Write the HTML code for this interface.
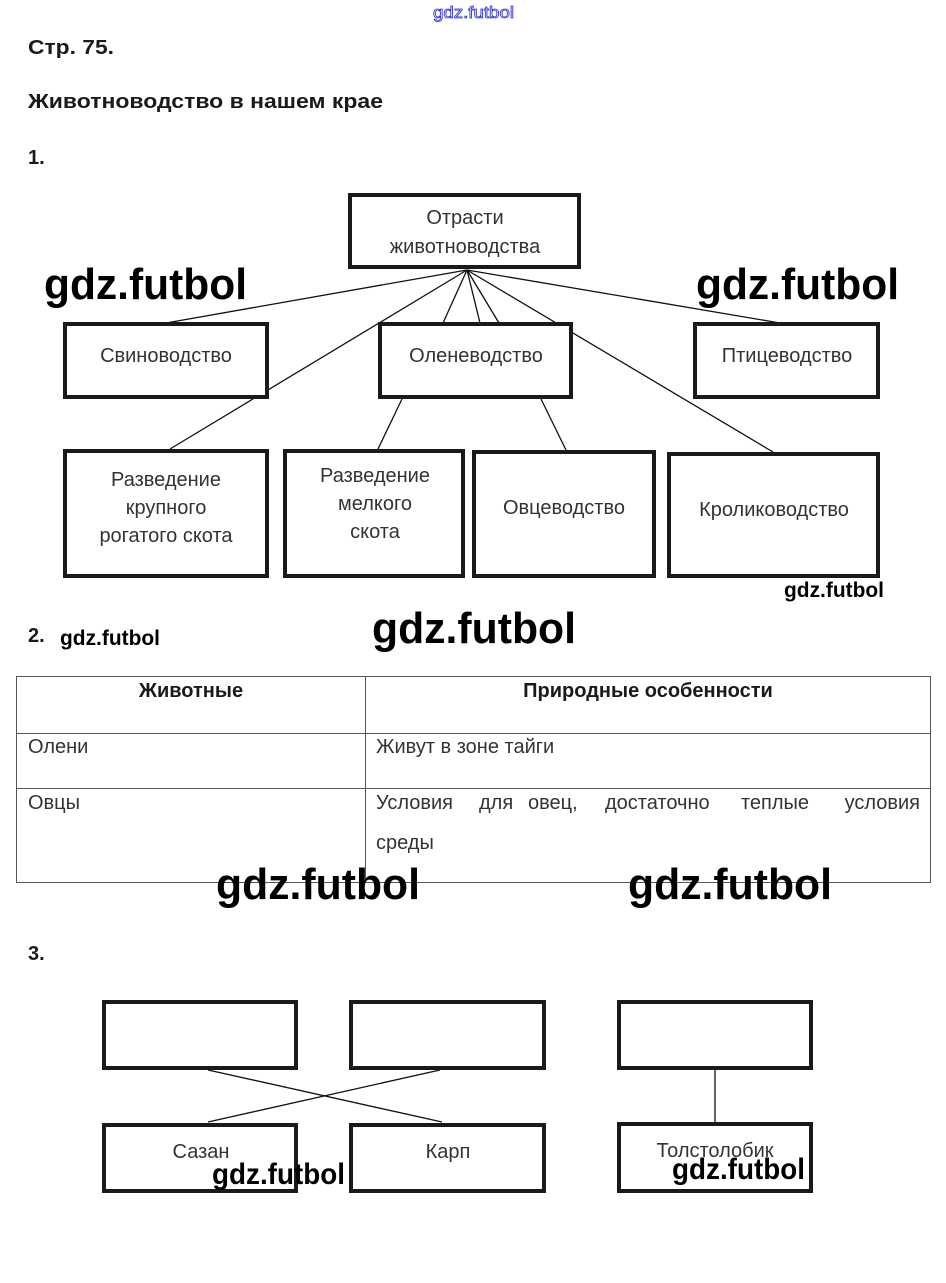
<!DOCTYPE html>
<html><head><meta charset="utf-8"><style>
html,body{margin:0;padding:0;background:#fff;width:946px;height:1283px;overflow:hidden}
svg{display:block}
text{font-family:"Liberation Sans",sans-serif}
.h{font-weight:bold;font-size:20px;fill:#1a1a1a}
.b{font-size:20px;fill:#333}
.w{font-size:44px;fill:#000;font-weight:bold;font-family:"Liberation Sans Narrow","Liberation Sans",sans-serif}
.ws{font-size:21px;fill:#000;font-weight:bold;font-family:"Liberation Sans Narrow","Liberation Sans",sans-serif}
</style></head><body>
<svg width="946" height="1283" viewBox="0 0 946 1283">
<text x="433" y="18" font-size="17" fill="none" stroke="#2b2bd6" stroke-width="0.8" textLength="81" lengthAdjust="spacingAndGlyphs">gdz.futbol</text>
<text class="h" x="28" y="54" textLength="86" lengthAdjust="spacingAndGlyphs">Стр. 75.</text>
<text class="h" x="28" y="108" textLength="355" lengthAdjust="spacingAndGlyphs">Животноводство в нашем крае</text>
<text class="h" x="28" y="164">1.</text>

<g stroke="#111" stroke-width="1.3" fill="none">
<line x1="467" y1="270" x2="166" y2="323"/>
<line x1="467" y1="270" x2="170" y2="449"/>
<line x1="467" y1="270" x2="443" y2="323"/>
<line x1="467" y1="270" x2="480" y2="323"/>
<line x1="467" y1="270" x2="499" y2="323"/>
<line x1="467" y1="270" x2="773" y2="452"/>
<line x1="467" y1="270" x2="780" y2="323"/>
<line x1="402" y1="399" x2="378" y2="449"/>
<line x1="541" y1="399" x2="566" y2="450"/>
</g>
<g stroke="#1a1a1a" stroke-width="4" fill="#fff">
<rect x="350" y="195" width="229" height="72"/>
<rect x="65" y="324" width="202" height="73"/>
<rect x="380" y="324" width="191" height="73"/>
<rect x="695" y="324" width="183" height="73"/>
<rect x="65" y="451" width="202" height="125"/>
<rect x="285" y="451" width="178" height="125"/>
<rect x="474" y="452" width="180" height="124"/>
<rect x="669" y="454" width="209" height="122"/>
</g>
<g class="b" text-anchor="middle">
<text x="465" y="224">Отрасти</text>
<text x="465" y="253">животноводства</text>
<text x="166" y="362">Свиноводство</text>
<text x="476" y="362">Оленеводство</text>
<text x="787" y="362">Птицеводство</text>
<text x="166" y="486">Разведение</text>
<text x="166" y="514">крупного</text>
<text x="166" y="542">рогатого скота</text>
<text x="375" y="482">Разведение</text>
<text x="375" y="510">мелкого</text>
<text x="375" y="538">скота</text>
<text x="564" y="514">Овцеводство</text>
<text x="774" y="516">Кролиководство</text>
</g>
<text class="w" x="44" y="299" textLength="203" lengthAdjust="spacingAndGlyphs">gdz.futbol</text>
<text class="w" x="696" y="299" textLength="203" lengthAdjust="spacingAndGlyphs">gdz.futbol</text>
<text class="ws" x="784" y="597" textLength="100" lengthAdjust="spacingAndGlyphs">gdz.futbol</text>

<text class="h" x="28" y="642">2.</text>
<text class="ws" x="60" y="645" textLength="100" lengthAdjust="spacingAndGlyphs">gdz.futbol</text>
<text class="w" x="372" y="643" textLength="204" lengthAdjust="spacingAndGlyphs">gdz.futbol</text>

<g stroke="#555" stroke-width="1" fill="none">
<rect x="16.5" y="676.5" width="914" height="206"/>
<line x1="365.5" y1="676" x2="365.5" y2="883"/>
<line x1="16" y1="733.5" x2="931" y2="733.5"/>
<line x1="16" y1="788.5" x2="931" y2="788.5"/>
</g>
<text class="h" x="191" y="697" text-anchor="middle">Животные</text>
<text class="h" x="648" y="697" text-anchor="middle">Природные особенности</text>
<text class="b" x="28" y="753">Олени</text>
<text class="b" x="376" y="753">Живут в зоне тайги</text>
<text class="b" x="28" y="809">Овцы</text>
<g class="b">
<text x="376" y="809">Условия</text>
<text x="479" y="809">для</text>
<text x="528" y="809">овец,</text>
<text x="605" y="809">достаточно</text>
<text x="741" y="809">теплые</text>
<text x="920" y="809" text-anchor="end">условия</text>
</g>
<text class="b" x="376" y="849">среды</text>
<text class="w" x="216" y="899" textLength="204" lengthAdjust="spacingAndGlyphs">gdz.futbol</text>
<text class="w" x="628" y="899" textLength="204" lengthAdjust="spacingAndGlyphs">gdz.futbol</text>

<text class="h" x="28" y="960">3.</text>
<g stroke="#111" stroke-width="1.3">
<line x1="208" y1="1070" x2="442" y2="1122"/>
<line x1="440" y1="1070" x2="208" y2="1122"/>
<line x1="715" y1="1070" x2="715" y2="1122"/>
</g>
<g stroke="#1a1a1a" stroke-width="4" fill="#fff">
<rect x="104" y="1002" width="192" height="66"/>
<rect x="351" y="1002" width="193" height="66"/>
<rect x="619" y="1002" width="192" height="66"/>
<rect x="104" y="1125" width="192" height="66"/>
<rect x="351" y="1125" width="193" height="66"/>
<rect x="619" y="1124" width="192" height="67"/>
</g>
<g class="b" text-anchor="middle">
<text x="201" y="1158">Сазан</text>
<text x="448" y="1158">Карп</text>
<text x="715" y="1157">Толстолобик</text>
</g>
<text class="ws" x="212" y="1184" textLength="133" lengthAdjust="spacingAndGlyphs" style="font-size:30px">gdz.futbol</text>
<text class="ws" x="672" y="1179" style="font-size:30px" textLength="133" lengthAdjust="spacingAndGlyphs">gdz.futbol</text>
</svg>
</body></html>
